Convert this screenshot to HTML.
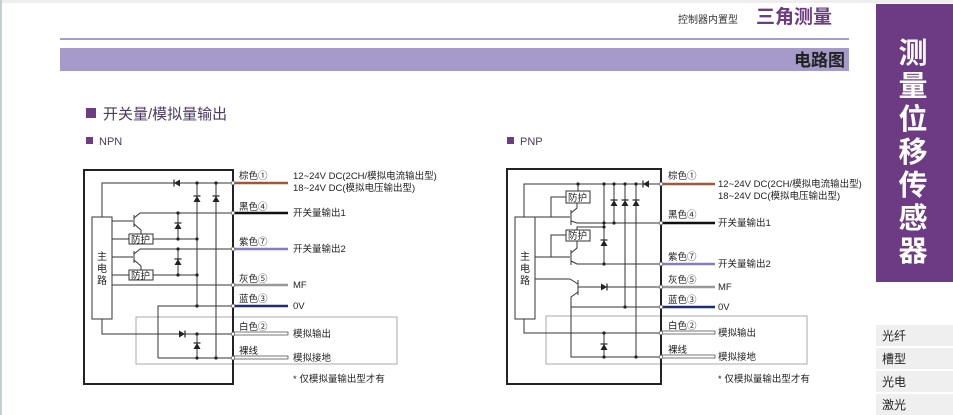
<!DOCTYPE html>
<html><head><meta charset="utf-8"><style>
html,body{margin:0;padding:0;background:#fff;}
body{width:953px;height:415px;overflow:hidden;position:relative;font-family:"Liberation Sans","Noto Sans CJK SC",sans-serif;}
svg{position:absolute;left:0;top:0;}
</style></head><body>
<svg width="953" height="415" viewBox="0 0 953 415" xmlns="http://www.w3.org/2000/svg" font-family="Liberation Sans, Noto Sans CJK SC, sans-serif">
<defs>
<g id="dl"><polygon points="-3,0 3,-3.5 3,3.5" fill="#222"/><line x1="-3" y1="-3.5" x2="-3" y2="3.5" stroke="#222" stroke-width="1.2"/></g>
<g id="du"><polygon points="0,-3 -3.5,3 3.5,3" fill="#222"/><line x1="-3.5" y1="-3" x2="3.5" y2="-3" stroke="#222" stroke-width="1.2"/></g>
<g id="dr"><polygon points="3,0 -3,-3.5 -3,3.5" fill="#222"/><line x1="3" y1="-3.5" x2="3" y2="3.5" stroke="#222" stroke-width="1.2"/></g>
</defs>
<rect x="0" y="0" width="953" height="3" fill="#eee"/>
<rect x="0" y="0" width="2" height="415" fill="#c4d0d2"/>
<text x="678" y="23" font-size="10" fill="#333">控制器内置型</text>
<text x="756" y="23" font-size="19" font-weight="bold" fill="#6c3b84">三角测量</text>
<rect x="60" y="38" width="789" height="2" fill="#a59ac9"/>
<rect x="60" y="48" width="789" height="23" fill="#a59ac9"/>
<text x="845" y="66" font-size="17" font-weight="bold" fill="#222" text-anchor="end">电路图</text>
<rect x="876" y="4" width="77" height="278" fill="#6c3b84"/>
<g font-size="29" font-weight="bold" fill="#fff" text-anchor="middle">
<text x="913" y="63">测</text><text x="913" y="96">量</text><text x="913" y="129">位</text><text x="913" y="162">移</text><text x="913" y="195">传</text><text x="913" y="228">感</text><text x="913" y="261">器</text></g>
<g fill="#efefef"><rect x="876" y="325" width="77" height="21"/><rect x="876" y="348" width="77" height="21"/><rect x="876" y="371" width="77" height="21"/><rect x="876" y="394" width="77" height="21"/></g>
<g font-size="12" fill="#222"><text x="882" y="340">光纤</text><text x="882" y="363">槽型</text><text x="882" y="386">光电</text><text x="882" y="409">激光</text></g>
<rect x="86" y="108" width="10" height="10" fill="#6c3b84"/>
<text x="103" y="119" font-size="15" fill="#4a3a5e">开关量/模拟量输出</text>
<rect x="86" y="137" width="7" height="7" fill="#6c3b84"/>
<text x="99" y="145" font-size="11" fill="#4a3a5e">NPN</text>
<rect x="507" y="137" width="7" height="7" fill="#6c3b84"/>
<text x="520" y="145" font-size="11" fill="#4a3a5e">PNP</text>

<!-- NPN -->
<g stroke="#333" stroke-width="1" fill="none">
<rect x="136" y="317" width="261" height="47" stroke="#aaa"/>
<rect x="84" y="170" width="149" height="214" stroke="#222" stroke-width="2"/>
<rect x="92" y="217" width="20" height="102" fill="#fff"/>
<polyline points="102,217 102,183 233,183"/>
<line x1="197" y1="183" x2="197" y2="306"/>
<line x1="216" y1="183" x2="216" y2="358"/>
<line x1="112" y1="221" x2="133" y2="221"/>
<line x1="134" y1="215" x2="134" y2="227"/>
<polyline points="134,218 140,213 233,213"/>
<polyline points="134,224 141,230 141,234"/>
<rect x="129" y="234" width="24" height="10" fill="#fff"/>
<line x1="112" y1="239" x2="129" y2="239"/><line x1="153" y1="239" x2="197" y2="239"/>
<line x1="178" y1="213" x2="178" y2="239"/>
<line x1="112" y1="257" x2="133" y2="257"/>
<line x1="134" y1="251" x2="134" y2="263"/>
<polyline points="134,254 140,249 233,249"/>
<polyline points="134,260 141,266 141,270"/>
<rect x="129" y="270" width="24" height="10" fill="#fff"/>
<line x1="112" y1="275" x2="129" y2="275"/><line x1="153" y1="275" x2="197" y2="275"/>
<line x1="178" y1="249" x2="178" y2="275"/>
<line x1="112" y1="285" x2="233" y2="285"/>
<polyline points="158,358 158,306 233,306"/>
<line x1="158" y1="358" x2="233" y2="358"/>
<polyline points="102,319 102,334 233,334"/>
<line x1="197" y1="334" x2="197" y2="358"/>
</g>
<g fill="#222"><circle cx="197" cy="183" r="1.6"/><circle cx="216" cy="183" r="1.6"/><circle cx="178" cy="213" r="1.6"/><circle cx="178" cy="239" r="1.6"/><circle cx="197" cy="239" r="1.6"/><circle cx="178" cy="249" r="1.6"/><circle cx="178" cy="275" r="1.6"/><circle cx="197" cy="275" r="1.6"/><circle cx="197" cy="306" r="1.6"/><circle cx="197" cy="334" r="1.6"/><circle cx="197" cy="358" r="1.6"/><circle cx="216" cy="358" r="1.6"/></g>
<use href="#dl" x="177" y="183"/><use href="#du" x="197" y="199"/><use href="#du" x="216" y="199"/><use href="#du" x="178" y="226"/><use href="#du" x="178" y="262"/><use href="#dr" x="182" y="334"/><use href="#du" x="197" y="346"/>
<g stroke-width="2.5"><line x1="233" y1="183" x2="288" y2="183" stroke="#a0583a"/><line x1="233" y1="213" x2="288" y2="213" stroke="#111"/><line x1="233" y1="249" x2="288" y2="249" stroke="#8a7cc4"/><line x1="233" y1="285" x2="288" y2="285" stroke="#999"/><line x1="233" y1="306" x2="288" y2="306" stroke="#1c2a7a"/></g>
<g fill="#fff" stroke="#555" stroke-width="0.8"><rect x="233" y="332" width="55" height="3"/><rect x="233" y="356" width="55" height="3"/></g>
<g fill="#fff" stroke="#444" stroke-width="0.7"><circle cx="233" cy="183" r="1.8"/><circle cx="233" cy="213" r="1.8"/><circle cx="233" cy="249" r="1.8"/><circle cx="233" cy="285" r="1.8"/><circle cx="233" cy="306" r="1.8"/><circle cx="233" cy="334" r="1.8"/><circle cx="233" cy="358" r="1.8"/></g>
<g font-size="9.5" fill="#222">
<text x="239" y="179">棕色①</text><text x="239" y="210">黑色④</text><text x="239" y="245">紫色⑦</text><text x="239" y="282">灰色⑤</text><text x="239" y="302">蓝色③</text><text x="239" y="330">白色②</text><text x="239" y="354">裸线</text>
<text x="293" y="179">12~24V DC(2CH/模拟电流输出型)</text><text x="293" y="191">18~24V DC(模拟电压输出型)</text>
<text x="293" y="216">开关量输出1</text><text x="293" y="252">开关量输出2</text><text x="293" y="288">MF</text><text x="293" y="309">0V</text><text x="293" y="337">模拟输出</text><text x="293" y="361">模拟接地</text><text x="293" y="382">* 仅模拟量输出型才有</text></g>

<!-- PNP -->
<g stroke="#333" stroke-width="1" fill="none">
<rect x="546" y="316" width="261" height="48" stroke="#aaa"/>
<rect x="507" y="169" width="154" height="215" stroke="#222" stroke-width="2"/>
<rect x="515" y="217" width="20" height="102" fill="#fff"/>
<polyline points="524,217 524,184 661,184"/>
<line x1="578" y1="184" x2="578" y2="191"/>
<line x1="604" y1="184" x2="604" y2="264"/>
<line x1="614" y1="184" x2="614" y2="223"/>
<line x1="625" y1="184" x2="625" y2="307"/>
<line x1="636" y1="184" x2="636" y2="357"/>
<rect x="566" y="191" width="24" height="12" fill="#fff"/>
<polyline points="566,197 551,197 551,217"/>
<line x1="535" y1="217" x2="570" y2="217"/>
<line x1="571" y1="210" x2="571" y2="225"/>
<polyline points="571,213 577,208 577,203"/>
<polyline points="571,221 577,223 661,223"/>
<polyline points="577,232 577,227 604,227"/>
<rect x="566" y="230" width="24" height="11" fill="#fff"/>
<polyline points="566,235 551,235 551,257"/>
<line x1="535" y1="257" x2="570" y2="257"/>
<line x1="571" y1="250" x2="571" y2="265"/>
<polyline points="571,253 577,248 577,241"/>
<polyline points="571,261 577,264 661,264"/>
<line x1="535" y1="279" x2="570" y2="279"/>
<line x1="578" y1="280" x2="578" y2="295"/>
<polyline points="578,287 661,287"/>
<polyline points="570,279 578,284"/>
<polyline points="578,292 571,297 571,357 661,357"/>
<line x1="571" y1="307" x2="661" y2="307"/>
<polyline points="524,319 524,333 661,333"/>
<line x1="604" y1="333" x2="604" y2="357"/>
</g>
<g fill="#222"><circle cx="578" cy="184" r="1.6"/><circle cx="604" cy="184" r="1.6"/><circle cx="614" cy="184" r="1.6"/><circle cx="625" cy="184" r="1.6"/><circle cx="636" cy="184" r="1.6"/><circle cx="604" cy="223" r="1.6"/><circle cx="614" cy="223" r="1.6"/><circle cx="604" cy="227" r="1.6"/><circle cx="604" cy="264" r="1.6"/><circle cx="625" cy="307" r="1.6"/><circle cx="604" cy="333" r="1.6"/><circle cx="604" cy="357" r="1.6"/><circle cx="636" cy="357" r="1.6"/></g>
<use href="#dl" x="646" y="184"/><use href="#du" x="614" y="203"/><use href="#du" x="625" y="203"/><use href="#du" x="636" y="203"/><use href="#du" x="604" y="243"/><use href="#dr" x="604" y="287"/><use href="#du" x="604" y="347"/>
<g stroke-width="2.5"><line x1="661" y1="184" x2="715" y2="184" stroke="#a0583a"/><line x1="661" y1="223" x2="715" y2="223" stroke="#111"/><line x1="661" y1="264" x2="715" y2="264" stroke="#8a7cc4"/><line x1="661" y1="287" x2="715" y2="287" stroke="#999"/><line x1="661" y1="307" x2="715" y2="307" stroke="#1c2a7a"/></g>
<g fill="#fff" stroke="#555" stroke-width="0.8"><rect x="661" y="331" width="54" height="3"/><rect x="661" y="355" width="54" height="3"/></g>
<g fill="#fff" stroke="#444" stroke-width="0.7"><circle cx="661" cy="184" r="1.8"/><circle cx="661" cy="223" r="1.8"/><circle cx="661" cy="264" r="1.8"/><circle cx="661" cy="287" r="1.8"/><circle cx="661" cy="307" r="1.8"/><circle cx="661" cy="333" r="1.8"/><circle cx="661" cy="357" r="1.8"/></g>
<g font-size="9.5" fill="#222">
<text x="668" y="179">棕色①</text><text x="668" y="218">黑色④</text><text x="668" y="260">紫色⑦</text><text x="668" y="283">灰色⑤</text><text x="668" y="303">蓝色③</text><text x="668" y="329">白色②</text><text x="668" y="353">裸线</text>
<text x="718" y="187">12~24V DC(2CH/模拟电流输出型)</text><text x="718" y="199">18~24V DC(模拟电压输出型)</text>
<text x="718" y="226">开关量输出1</text><text x="718" y="267">开关量输出2</text><text x="718" y="290">MF</text><text x="718" y="310">0V</text><text x="718" y="336">模拟输出</text><text x="718" y="360">模拟接地</text><text x="718" y="382">* 仅模拟量输出型才有</text></g>
<g font-size="10" fill="#222" text-anchor="middle"><text x="102" y="260">主</text><text x="102" y="272">电</text><text x="102" y="284">路</text><text x="525" y="260">主</text><text x="525" y="272">电</text><text x="525" y="284">路</text></g>
<g font-size="9.5" fill="#222"><text x="131" y="243">防护</text><text x="131" y="279">防护</text><text x="568" y="201">防护</text><text x="568" y="239">防护</text></g>
</svg>
</body></html>
